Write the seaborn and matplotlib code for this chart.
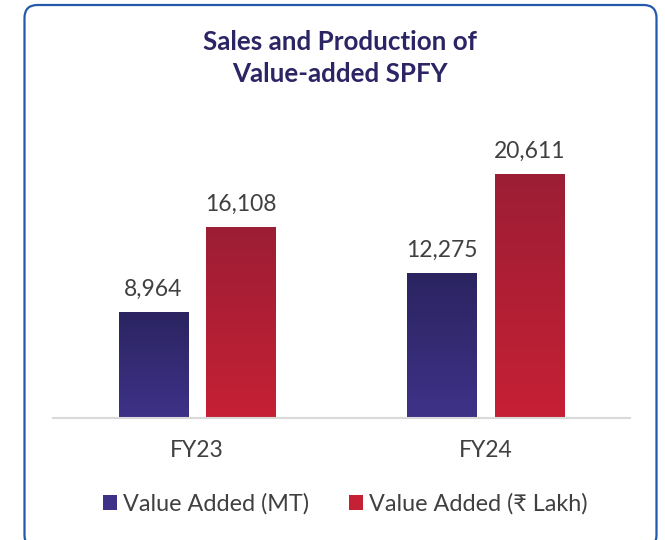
import numpy as np
import pandas as pd
import matplotlib
matplotlib.use('Agg')
import matplotlib.pyplot as plt
from matplotlib.patches import FancyBboxPatch, Patch
from matplotlib.colors import LinearSegmentedColormap
import seaborn as sns

# data
years = ['FY23', 'FY24']
series = ['Value Added (MT)', 'Value Added (\u20b9 Lakh)']
mt_values = [8964, 12275]
lakh_values = [16108, 20611]

# gradient colours (top, bottom) for each series
grad_cols = [('#2b2460', '#3e3288'), ('#9c1e34', '#c62035')]
txt_col = '#404040'
title_col = '#2b2565'

sns.set_theme(style='white')
plt.rcParams['font.family'] = ['Lato', 'DejaVu Sans']

df = pd.DataFrame({
    'year': years * 2,
    'series': [series[0]] * 2 + [series[1]] * 2,
    'value': mt_values + lakh_values,
})

fig = plt.figure(figsize=(6.65, 5.4), dpi=100)
ax = fig.add_axes([53/665, 122/540, 577/665, 278/540])

sns.barplot(data=df, x='year', y='value', hue='series', hue_order=series,
            palette=[c[1] for c in grad_cols], width=0.607, gap=0.205,
            legend=False, ax=ax)

ymax = 23540
ax.set_xlim(-0.5, 1.5)
ax.set_ylim(0, ymax)

##paint gradient inside each bar
for i, cont in enumerate(ax.containers):
    cmap = LinearSegmentedColormap.from_list('g%d' % i, [grad_cols[i][1], grad_cols[i][0]])
    grad = np.linspace(0, 1, 256).reshape(-1, 1)
    for p in cont.patches:
        x0, w, h = p.get_x(), p.get_width(), p.get_height()
        p.set_facecolor('none')
        p.set_edgecolor('none')
        ax.imshow(grad, cmap=cmap, origin='lower', aspect='auto',
                  extent=[x0, x0 + w, 0, h], zorder=2)
    ax.bar_label(cont, labels=['{:,.0f}'.format(v) for v in cont.datavalues],
                 padding=9, fontsize=16.5, color=txt_col)

ax.set_xlim(-0.5, 1.5)
ax.set_ylim(0, ymax)

for s in ['top', 'right', 'left']:
    ax.spines[s].set_visible(False)
ax.spines['bottom'].set_color('#d9d9d9')
ax.spines['bottom'].set_linewidth(1.5)
ax.set_yticks([])
ax.set_xlabel('')
ax.set_ylabel('')
ax.tick_params(axis='x', length=0, pad=16, labelsize=16.5, labelcolor=txt_col)
ax.patch.set_alpha(0)

fig.text(340/665, 1 - 58/540, 'Sales and Production of\nValue-added SPFY',
         ha='center', va='center', fontsize=18.7, fontweight='bold',
         color=title_col, linespacing=1.35)

handles = [Patch(facecolor=c[1], edgecolor='none') for c in grad_cols]
fig.legend(handles, series, loc='center', bbox_to_anchor=(345/665, 36/540),
           ncol=2, frameon=False, fontsize=16.8, labelcolor=txt_col,
           handlelength=0.6, handleheight=0.6, handletextpad=0.26,
           columnspacing=1.7)

##rounded frame around the chart
frame = FancyBboxPatch((0.245, -0.08), 6.32, 5.43, boxstyle='round,pad=0,rounding_size=0.13',
                       transform=fig.dpi_scale_trans, facecolor='none',
                       edgecolor='#2459ad', linewidth=1.6)
fig.patches.append(frame)

fig.savefig('out.png', dpi=100)
